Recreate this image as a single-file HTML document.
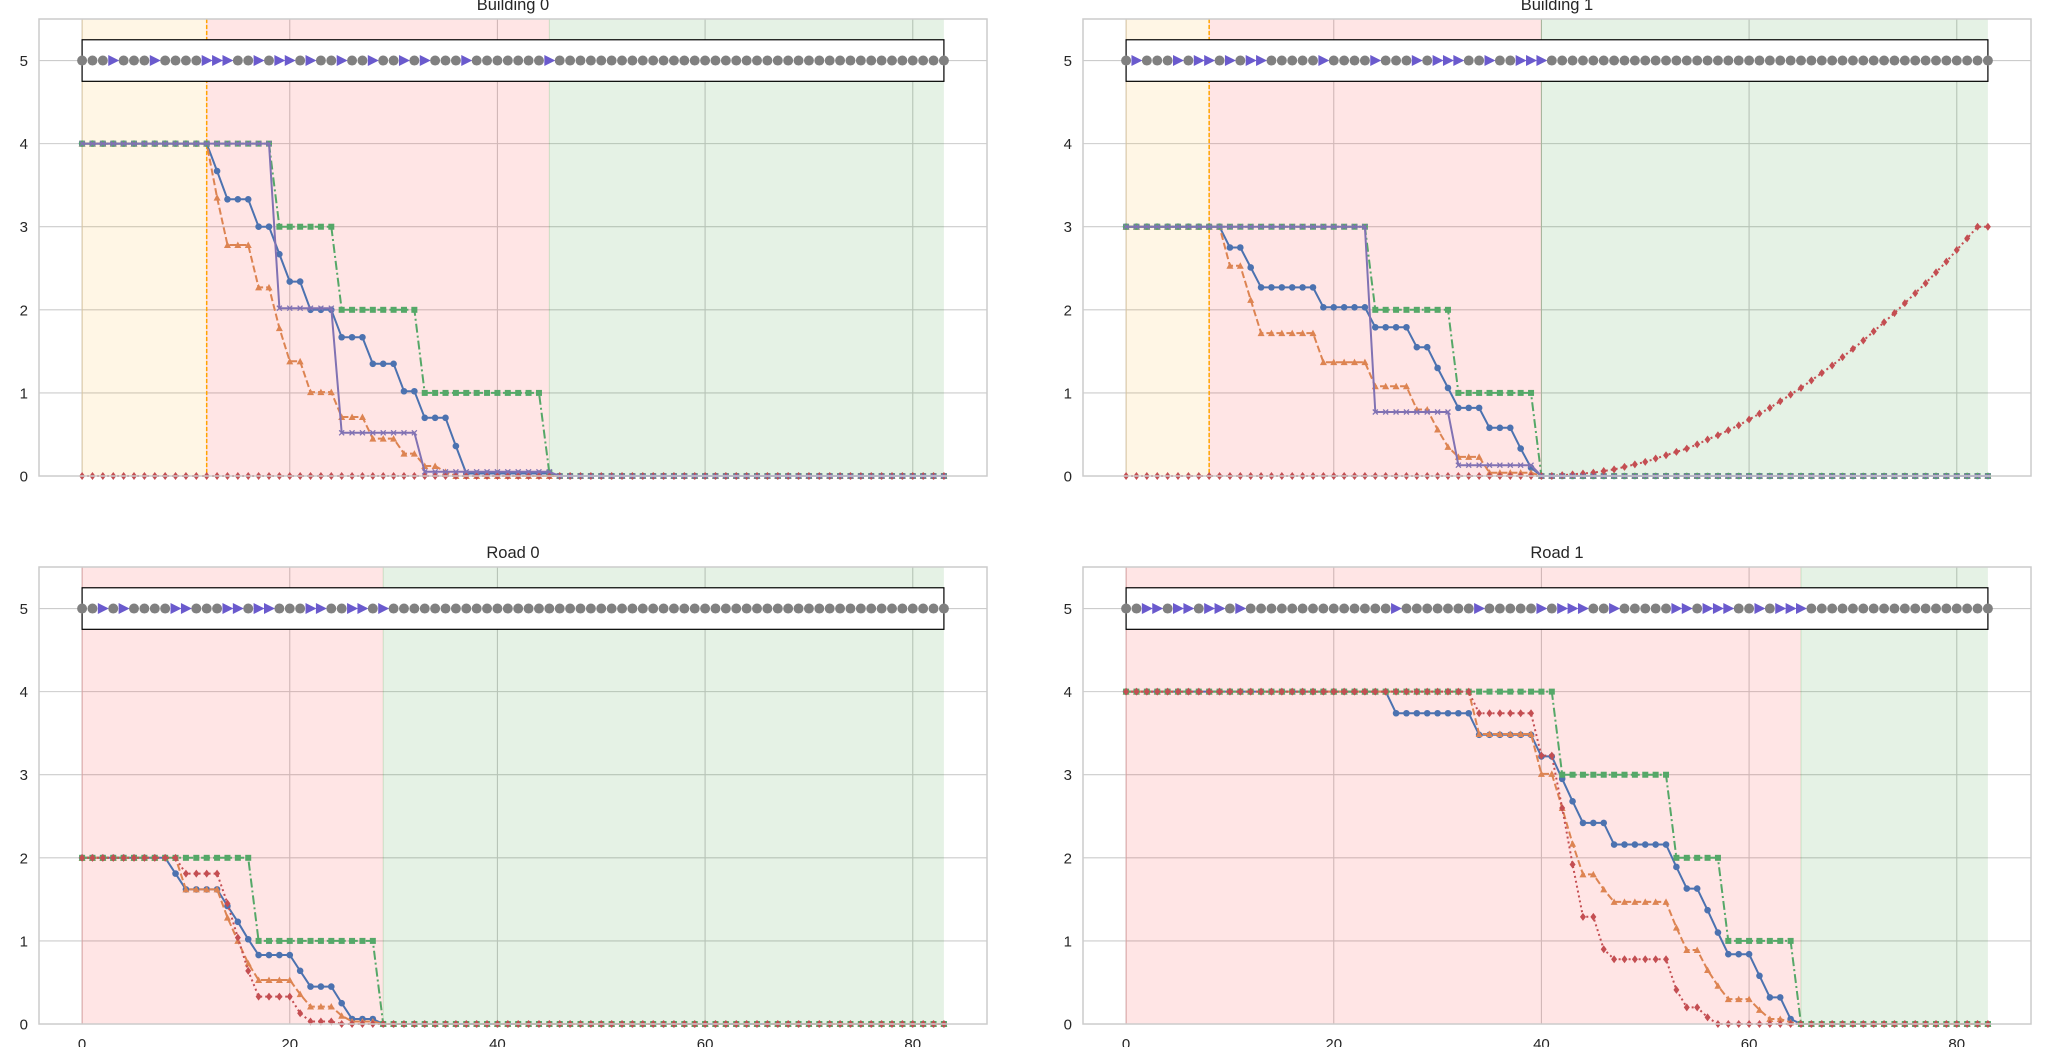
<!DOCTYPE html>
<html><head><meta charset="utf-8">
<style>
html,body{margin:0;padding:0;background:#fff;}
svg{display:block;font-family:"Liberation Sans","DejaVu Sans",sans-serif;}
</style></head>
<body>
<svg id="fig" width="2048" height="1047" viewBox="0 0 2048 1047" xmlns="http://www.w3.org/2000/svg"></svg>
<script>
const xTicks = [0, 20, 40, 60, 80];
const yTicks = [0, 1, 2, 3, 4, 5];
const titles = ["Building 0", "Building 1", "Road 0", "Road 1"];

function rep(v, n){ return Array(n).fill(v); }

// ---- Building 0 ----
const b0Blue = [].concat(rep(4,13),[3.67],rep(3.33,3),rep(3.0,2),[2.67],rep(2.34,2),rep(2.0,3),rep(1.67,3),rep(1.35,3),rep(1.02,2),rep(0.7,3),[0.36],rep(0.03,9),rep(0,38));
const b0Orange = [].concat(rep(4,13),[3.35],rep(2.78,3),rep(2.27,2),[1.78],rep(1.38,2),rep(1.01,3),rep(0.71,3),rep(0.45,3),rep(0.27,2),rep(0.12,2),[0.05],rep(0,48));
const b0Green = [].concat(rep(4,19),rep(3,6),rep(2,8),rep(1,12),[0.04],rep(0,38));
const b0Red = rep(0,84);
const b0Purple = [].concat(rep(4,19),rep(2.02,6),rep(0.52,8),rep(0.05,13),rep(0,38));
const b0Tri = [3,7,12,13,14,17,19,20,22,25,28,31,33,37,45];
const b0Spans = [[0,12,"orange"],[12,45,"red"],[45,83,"green"]];
const b0VLine = [12];

// ---- Building 1 ----
const b1Blue = [].concat(rep(3,10),rep(2.75,2),[2.51],rep(2.27,6),rep(2.03,5),rep(1.79,4),rep(1.55,2),[1.3],[1.06],rep(0.82,3),rep(0.58,3),[0.33],[0.1],rep(0,44));
const b1Orange = [].concat(rep(3,10),rep(2.53,2),[2.12],rep(1.72,6),rep(1.37,5),rep(1.08,4),rep(0.8,2),[0.56],[0.35],rep(0.23,3),rep(0.04,5),rep(0,44));
const b1Green = [].concat(rep(3,24),rep(2,8),rep(1,8),rep(0,44));
const b1Red = [].concat(rep(0,41),[0.00,0.01,0.02,0.03,0.04,0.06,0.08,0.11,0.14,0.17,0.21,0.25,0.29,0.33,0.38,0.44,0.49,0.55,0.61,0.68,0.75,0.82,0.90,0.98,1.06,1.15,1.24,1.33,1.43,1.53,1.63,1.74,1.85,1.96,2.08,2.20,2.32,2.45,2.58,2.72,2.86,3.0,3.0]);
const b1Purple = [].concat(rep(3,24),rep(0.77,8),rep(0.13,8),rep(0,44));
const b1Tri = [1,5,7,8,10,12,13,19,24,28,30,31,32,35,38,39,40];
const b1Spans = [[0,8,"orange"],[8,40,"red"],[40,83,"green"]];
const b1VLine = [8];

// ---- Road 0 ----
const r0Blue = [].concat(rep(2,9),[1.81],rep(1.62,4),[1.42],[1.23],[1.02],rep(0.83,4),[0.64],rep(0.45,3),[0.25],rep(0.06,3),rep(0,55));
const r0Orange = [].concat(rep(2,10),rep(1.62,4),[1.28],[1.0],[0.73],rep(0.53,4),[0.36],rep(0.21,3),[0.1],rep(0.03,3),rep(0,55));
const r0Green = [].concat(rep(2,17),rep(1,12),rep(0,55));
const r0Red = [].concat(rep(2,10),rep(1.81,4),[1.45],[1.04],[0.64],rep(0.33,4),[0.13],rep(0.03,3),rep(0,59));
const r0Tri = [2,4,9,10,14,15,17,18,22,23,26,27,29];
const r0Spans = [[0,29,"red"],[29,83,"green"]];
const r0VLine = [];

// ---- Road 1 ----
const r1Blue = [].concat(rep(4,26),rep(3.74,8),rep(3.48,6),rep(3.22,2),[2.95],[2.68],rep(2.42,3),rep(2.16,6),[1.89],rep(1.63,2),[1.37],[1.1],rep(0.84,3),[0.58],rep(0.32,2),[0.06],rep(0,19));
const r1Orange = [].concat(rep(4,34),rep(3.49,6),rep(3.01,2),[2.6],[2.17],rep(1.8,2),[1.62],rep(1.47,6),[1.16],rep(0.89,2),[0.65],[0.46],rep(0.3,3),[0.17],rep(0.06,2),[0.02],rep(0,19));
const r1Green = [].concat(rep(4,42),rep(3,11),rep(2,5),rep(1,7),rep(0,19));
const r1Red = [].concat(rep(4,34),rep(3.74,6),rep(3.23,2),[2.6],[1.92],rep(1.29,2),[0.9],rep(0.78,6),[0.41],rep(0.2,2),[0.08],rep(0,27));
const r1Tri = [2,3,5,6,8,9,11,26,34,40,42,43,44,47,53,54,56,57,58,61,63,64,65];
const r1Spans = [[0,65,"red"],[65,83,"green"]];
const r1VLine = [];

const NS = "http://www.w3.org/2000/svg";
const svg = document.getElementById("fig");
function mk(tag, attrs, parent){
  const e = document.createElementNS(NS, tag);
  for (const k in attrs) e.setAttribute(k, attrs[k]);
  (parent||svg).appendChild(e);
  return e;
}

const W = 948, H = 457;
const XMIN = -4.15, XMAX = 87.15, YMIN = 0, YMAX = 5.5;
const layouts = [{l:39,t:19},{l:1083,t:19},{l:39,t:567},{l:1083,t:567}];
const colors = {blue:"#4c72b0", orange:"#dd8452", green:"#55a868", red:"#c44e52", purple:"#8172b3"};
const spanFill = {orange:"rgb(255,165,0)", red:"rgb(255,0,0)", green:"rgb(0,128,0)"};

const panels = [
  {series:[["blue",b0Blue],["orange",b0Orange],["green",b0Green],["red",b0Red],["purple",b0Purple]], tri:b0Tri, spans:b0Spans, vl:b0VLine},
  {series:[["blue",b1Blue],["orange",b1Orange],["green",b1Green],["red",b1Red],["purple",b1Purple]], tri:b1Tri, spans:b1Spans, vl:b1VLine},
  {series:[["blue",r0Blue],["orange",r0Orange],["green",r0Green],["red",r0Red]], tri:r0Tri, spans:r0Spans, vl:r0VLine},
  {series:[["blue",r1Blue],["orange",r1Orange],["green",r1Green],["red",r1Red]], tri:r1Tri, spans:r1Spans, vl:r1VLine}
];

const styleOf = {
  blue:{dash:"", marker:"circle"},
  orange:{dash:"7,3", marker:"tri"},
  green:{dash:"9,3,2,3", marker:"square"},
  red:{dash:"2,3", marker:"diamond"},
  purple:{dash:"", marker:"x"}
};

panels.forEach((p, pi) => {
  const L = layouts[pi];
  const xs = v => L.l + (v - XMIN) / (XMAX - XMIN) * W;
  const ys = v => L.t + H - (v - YMIN) / (YMAX - YMIN) * H;
  const g = mk("g", {});
  
  

  const bg = mk("rect", {x:L.l, y:L.t, width:W, height:H, fill:"#fff"}, g);
  
  

  yTicks.forEach(t => {
    const ln = mk("line", {x1:L.l, x2:L.l+W, y1:ys(t), y2:ys(t), stroke:"#cccccc", "stroke-width":1.1}, g);
    
    
    const tx = mk("text", {x:L.l-11, y:ys(t)+5.5, "text-anchor":"end", "font-size":15, fill:"#262626"}, g);
    tx.textContent = t;
    
    
  });
  xTicks.forEach(t => {
    const ln = mk("line", {x1:xs(t), x2:xs(t), y1:L.t, y2:L.t+H, stroke:"#cccccc", "stroke-width":1.1}, g);
    
    
    if (pi >= 2) {
      const tx = mk("text", {x:xs(t), y:L.t+H+25, "text-anchor":"middle", "font-size":15, fill:"#262626"}, g);
      tx.textContent = t;
      
      
    }
  });

  p.spans.forEach(s => {
    const r = mk("rect", {x:xs(s[0]), y:L.t, width:xs(s[1])-xs(s[0]), height:H, fill:spanFill[s[2]], "fill-opacity":0.1}, g);
    
    
    const e = mk("line", {x1:xs(s[0]), x2:xs(s[0]), y1:L.t, y2:L.t+H, stroke:spanFill[s[2]], "stroke-opacity":0.15, "stroke-width":1}, g);
    
    
  });
  p.vl.forEach(v => {
    const l = mk("line", {x1:xs(v), x2:xs(v), y1:L.t, y2:L.t+H, stroke:"orange", "stroke-width":1.5, "stroke-dasharray":"4,2"}, g);
    
    
  });

  const n = p.series[0][1].length;
  const box = mk("rect", {x:xs(0), y:ys(5.25), width:xs(n-1)-xs(0), height:ys(4.75)-ys(5.25), fill:"#fff", stroke:"#000", "stroke-width":1.2}, g);
  
  
  for (let i = 0; i < n; i++) {
    const cx = xs(i), cy = ys(5);
    if (p.tri.indexOf(i) >= 0) {
      const tr = mk("polygon", {points:`${cx-5},${cy-5.5} ${cx+6},${cy} ${cx-5},${cy+5.5}`, fill:"#6a5acd"}, g);
      
      
    } else {
      const c = mk("circle", {cx:cx, cy:cy, r:5, fill:"#808080"}, g);
      
      
    }
  }

  p.series.forEach(([col, vals]) => {
    const st = styleOf[col];
    const pts = vals.map((v,i) => xs(i).toFixed(1) + "," + ys(v).toFixed(1)).join(" ");
    const pl = mk("polyline", {points:pts, fill:"none", stroke:colors[col], "stroke-width":2, "stroke-dasharray":st.dash, "stroke-linejoin":"round"}, g);
    
    
    const mg = mk("g", {fill:colors[col], stroke:colors[col]}, g);
    
    
    vals.forEach((v,i) => {
      const cx = xs(i), cy = ys(v);
      let m;
      if (st.marker === "circle") m = mk("circle", {cx:cx, cy:cy, r:3.3, stroke:"none"}, mg);
      else if (st.marker === "tri") m = mk("polygon", {points:`${cx},${cy-3.5} ${cx+3.5},${cy+3} ${cx-3.5},${cy+3}`, stroke:"none"}, mg);
      else if (st.marker === "square") m = mk("rect", {x:cx-3, y:cy-3, width:6, height:6, stroke:"none"}, mg);
      else if (st.marker === "diamond") m = mk("polygon", {points:`${cx},${cy-4} ${cx+3},${cy} ${cx},${cy+4} ${cx-3},${cy}`, stroke:"none"}, mg);
      else m = mk("path", {d:`M${cx-2.5},${cy-2.5}L${cx+2.5},${cy+2.5}M${cx-2.5},${cy+2.5}L${cx+2.5},${cy-2.5}`, "stroke-width":1.3, fill:"none"}, mg);
      
      
    });
  });

  const fr = mk("rect", {x:L.l, y:L.t, width:W, height:H, fill:"none", stroke:"#cccccc", "stroke-width":1.5}, g);
  
  

  const tt = mk("text", {x:L.l+W/2, y:L.t-9, "text-anchor":"middle", "font-size":16.5, fill:"#262626"}, g);
  tt.textContent = titles[pi];
  
  
});
</script>
</body></html>
